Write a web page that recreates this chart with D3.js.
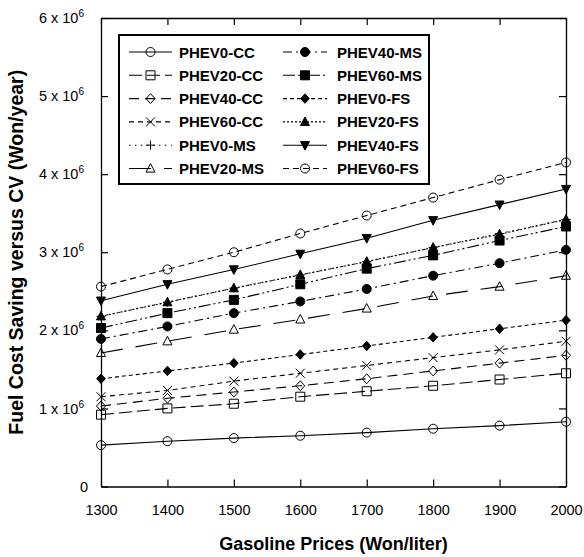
<!DOCTYPE html>
<html>
<head>
<meta charset="utf-8">
<script src="https://cdn.jsdelivr.net/npm/d3@7"></script>
<style>
  body { margin: 0; background: #fff; }
  svg { font-family: "Liberation Sans", Arial, sans-serif; }
</style>
</head>
<body>
<div id="chart"></div>
<script>
"use strict";

// gasoline prices (Won/liter)
const prices = [1300, 1400, 1500, 1600, 1700, 1800, 1900, 2000];

// fuel cost saving versus CV, in 10^6 Won/year
const phev0CC  = [0.53, 0.58, 0.62, 0.65, 0.69, 0.74, 0.78, 0.83];
const phev20CC = [0.92, 1.00, 1.06, 1.15, 1.22, 1.29, 1.37, 1.45];
const phev40CC = [1.03, 1.13, 1.21, 1.29, 1.38, 1.48, 1.58, 1.68];
const phev60CC = [1.15, 1.23, 1.35, 1.45, 1.55, 1.65, 1.75, 1.86];
const phev0MS  = [2.18, 2.36, 2.54, 2.71, 2.88, 3.06, 3.24, 3.42];
const phev20MS = [1.71, 1.86, 2.01, 2.14, 2.28, 2.44, 2.56, 2.70];
const phev40MS = [1.89, 2.05, 2.22, 2.37, 2.53, 2.70, 2.86, 3.03];
const phev60MS = [2.03, 2.22, 2.39, 2.59, 2.79, 2.96, 3.15, 3.33];
const phev0FS  = [1.38, 1.48, 1.58, 1.69, 1.80, 1.91, 2.02, 2.13];
const phev20FS = [2.18, 2.36, 2.54, 2.71, 2.88, 3.06, 3.23, 3.42];
const phev40FS = [2.38, 2.59, 2.78, 2.98, 3.18, 3.41, 3.61, 3.81];
const phev60FS = [2.56, 2.78, 3.00, 3.24, 3.47, 3.70, 3.93, 4.15];

const yTicks = [0, 1, 2, 3, 4, 5, 6];

const series = [
  { name: "PHEV0-CC",  values: phev0CC,  marker: "circle",   fill: false, dash: null },
  { name: "PHEV20-CC", values: phev20CC, marker: "square",   fill: false, dash: "13,5" },
  { name: "PHEV40-CC", values: phev40CC, marker: "diamond",  fill: false, dash: "10,6" },
  { name: "PHEV60-CC", values: phev60CC, marker: "times",    fill: false, dash: "5,4" },
  { name: "PHEV0-MS",  values: phev0MS,  marker: "plus",     fill: false, dash: "1.5,4.5" },
  { name: "PHEV20-MS", values: phev20MS, marker: "triangle", fill: false, dash: "22,13" },
  { name: "PHEV40-MS", values: phev40MS, marker: "circle",   fill: true,  dash: "9,4,2,4" },
  { name: "PHEV60-MS", values: phev60MS, marker: "square",   fill: true,  dash: "12,3,2,3,2,3" },
  { name: "PHEV0-FS",  values: phev0FS,  marker: "diamond",  fill: true,  dash: "4,3" },
  { name: "PHEV20-FS", values: phev20FS, marker: "triangle", fill: true,  dash: "2,2" },
  { name: "PHEV40-FS", values: phev40FS, marker: "tridown",  fill: true,  dash: null },
  { name: "PHEV60-FS", values: phev60FS, marker: "circle",   fill: false, dash: "6,4" }
];

const width = 584, height = 557;
const plot = { left: 101, right: 566, top: 18, bottom: 486.5 };

const svg = d3.select("#chart").append("svg")
  .attr("width", width)
  .attr("height", height);

const x = d3.scaleLinear().domain([1300, 2000]).range([plot.left, plot.right]);
const y = d3.scaleLinear().domain([0, 6]).range([plot.bottom, plot.top]);

///////////////////////////
// marker shapes
///////////////////////////
const markerPath = (type, r) => {
  switch (type) {
    case "circle":
      return `M${r},0A${r},${r} 0 1,1 ${-r},0A${r},${r} 0 1,1 ${r},0Z`;
    case "square":
      return `M${-r},${-r}H${r}V${r}H${-r}Z`;
    case "diamond":
      return `M0,${-r * 1.1}L${r},0L0,${r * 1.1}L${-r},0Z`;
    case "times":
      return `M${-r},${-r}L${r},${r}M${-r},${r}L${r},${-r}`;
    case "plus":
      return `M${-r},0H${r}M0,${-r}V${r}`;
    case "triangle":
      return `M0,${-r * 1.1}L${r},${r * 0.8}L${-r},${r * 0.8}Z`;
    case "tridown":
      return `M0,${r * 1.1}L${r},${-r * 0.8}L${-r},${-r * 0.8}Z`;
  }
};

const drawMarker = (g, s, cx, cy) => {
  const r = s.marker === "diamond" && s.fill ? 4.3 : 4.5;
  g.append("path")
    .attr("d", markerPath(s.marker, r))
    .attr("transform", `translate(${cx},${cy})`)
    .attr("fill", s.fill ? "#000" : "none")
    .attr("stroke", "#000")
    .attr("stroke-width", 1);
};

///////////////////////////
// series lines and markers
///////////////////////////
const line = d3.line()
  .x((d, i) => x(prices[i]))
  .y((d) => y(d));

const marks = svg.append("g");
series.forEach((s) => {
  marks.append("path")
    .datum(s.values)
    .attr("d", line)
    .attr("fill", "none")
    .attr("stroke", "#000")
    .attr("stroke-width", 1.1)
    .attr("stroke-dasharray", s.dash);
});
series.forEach((s) => {
  s.values.forEach((v, i) => drawMarker(marks, s, x(prices[i]), y(v)));
});

///////////////////////////
// axes (ticks inward, frame on all sides)
///////////////////////////
const axisFont = (g) => g.selectAll("text")
  .attr("font-family", "Liberation Sans, Arial, sans-serif")
  .attr("font-size", "14.5px")
  .attr("fill", "#000");

svg.append("g")
  .attr("transform", `translate(0,${plot.bottom})`)
  .call(d3.axisBottom(x).tickValues(prices).tickFormat(d3.format("d"))
    .tickSizeInner(-7).tickSizeOuter(0).tickPadding(18))
  .call(axisFont);

svg.append("g")
  .attr("transform", `translate(0,${plot.top})`)
  .call(d3.axisTop(x).tickValues(prices).tickFormat("")
    .tickSizeInner(-7).tickSizeOuter(0));

const yAxis = svg.append("g")
  .attr("transform", `translate(${plot.left},0)`)
  .call(d3.axisLeft(y).tickValues(yTicks).tickFormat((d) => d)
    .tickSizeInner(-7).tickSizeOuter(0).tickPadding(17))
  .call(axisFont);

svg.append("g")
  .attr("transform", `translate(${plot.right},0)`)
  .call(d3.axisRight(y).tickValues(yTicks).tickFormat("")
    .tickSizeInner(-7).tickSizeOuter(0));

// scientific labels: "n x 10^6"
yAxis.selectAll(".tick text").each(function (d) {
  const t = d3.select(this);
  if (d === 0) {
    t.text("0").attr("x", -13);
    return;
  }
  t.text(null);
  t.append("tspan").text(`${d} x 10`);
  t.append("tspan").text("6").attr("font-size", "10px").attr("dy", "-6");
});

svg.selectAll(".domain").attr("stroke", "#000").attr("stroke-width", 1.3);
svg.selectAll(".tick line").attr("stroke", "#000").attr("stroke-width", 1.2);

///////////////////////////
// axis titles
///////////////////////////
svg.append("text")
  .attr("x", (plot.left + plot.right) / 2)
  .attr("y", 550)
  .attr("text-anchor", "middle")
  .attr("font-size", "18px")
  .attr("font-weight", "bold")
  .text("Gasoline Prices (Won/liter)");

svg.append("text")
  .attr("transform", `translate(23,${(plot.top + plot.bottom) / 2}) rotate(-90)`)
  .attr("text-anchor", "middle")
  .attr("font-size", "19.5px")
  .attr("font-weight", "bold")
  .text("Fuel Cost Saving versus CV (Won/year)");

///////////////////////////
// legend
///////////////////////////
const legend = svg.append("g");
legend.append("rect")
  .attr("x", 119)
  .attr("y", 35)
  .attr("width", 310)
  .attr("height", 149)
  .attr("fill", "#fff")
  .attr("stroke", "#000")
  .attr("stroke-width", 2);

const rowY = (i) => 52 + i * 23.3;
const cols = [
  { x0: 129, x1: 172, text: 179 },
  { x0: 283, x1: 327, text: 337 }
];

series.forEach((s, k) => {
  const c = cols[Math.floor(k / 6)];
  const cy = rowY(k % 6);
  legend.append("line")
    .attr("x1", c.x0).attr("x2", c.x1)
    .attr("y1", cy).attr("y2", cy)
    .attr("stroke", "#000")
    .attr("stroke-width", 1.1)
    .attr("stroke-dasharray", s.dash);
  drawMarker(legend, s, (c.x0 + c.x1) / 2, cy);
  legend.append("text")
    .attr("x", c.text)
    .attr("y", cy + 5.5)
    .attr("font-size", "15px")
    .attr("font-weight", "bold")
    .text(s.name);
});
</script>
</body>
</html>
